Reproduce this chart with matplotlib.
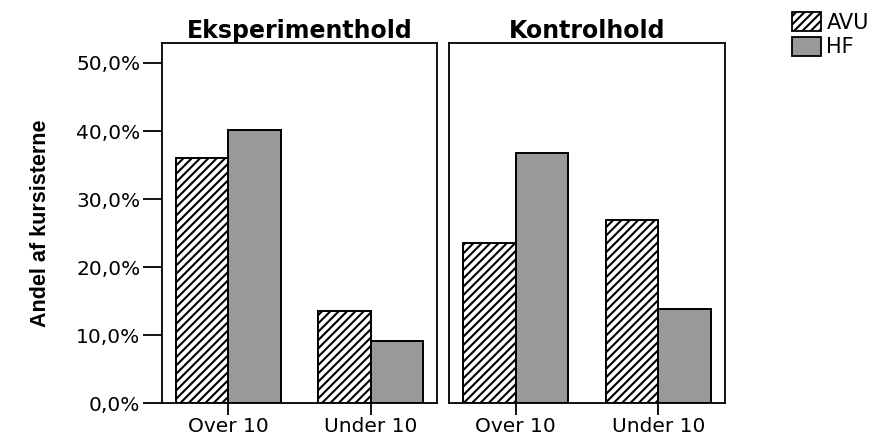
import matplotlib
matplotlib.use("Agg")
import matplotlib.pyplot as plt
import numpy as np
from matplotlib.patches import Patch
from matplotlib.ticker import FuncFormatter

panels = ["Eksperimenthold", "Kontrolhold"]
categories = ["Over 10", "Under 10"]
series = ["AVU", "HF"]
avu_values = [[36.0, 13.5], [23.6, 27.0]]
hf_values = [[40.2, 9.2], [36.8, 13.8]]
yticks = [0, 10, 20, 30, 40, 50]

plt.rcParams['hatch.linewidth'] = 1.5
fig = plt.figure(figsize=(8.89, 4.37), dpi=100)
ax1 = fig.add_axes([0.1822, 0.0771, 0.3093, 0.824])
ax2 = fig.add_axes([0.5054, 0.0771, 0.3101, 0.824])

tickfont = dict(family="DejaVu Sans", size=14.5)
x = np.arange(len(categories))
w = 0.369
for i, ax in enumerate([ax1, ax2]):
    ax.bar(x - w/2, avu_values[i], width=w, color="white", edgecolor="black",
           hatch="////", linewidth=1.4)
    ax.bar(x + w/2, hf_values[i], width=w, color="#999999", edgecolor="black",
           linewidth=1.4)
    ax.set_xlim(-0.466, 1.466)
    ax.set_ylim(0, 52.9)
    ax.set_xticks(x)
    ax.set_xticklabels(categories, **tickfont)
    ax.tick_params(axis='x', length=8.5, width=1.3, pad=1)
    for s in ax.spines.values():
        s.set_linewidth(1.3)
    ax.set_title(panels[i], fontsize=17, fontweight="bold", family="DejaVu Sans", pad=1)
    if i == 0:
        ax.set_yticks(yticks)
        ax.yaxis.set_major_formatter(FuncFormatter(lambda v, p: f"{v:.1f}%".replace(".", ",")))
        for lab in ax.get_yticklabels():
            lab.set_fontfamily("DejaVu Sans")
            lab.set_fontsize(14.5)
        ax.tick_params(axis='y', length=14, width=1.3, pad=1.5)
        ax.set_ylabel("Andel af kursisterne", fontsize=15.5, fontweight="bold",
                      family=["Liberation Sans Narrow", "Liberation Sans", "DejaVu Sans"])
        ax.yaxis.set_label_coords(-0.405, 0.5)
    else:
        ax.set_yticks([])

handles = [Patch(facecolor="white", edgecolor="black", hatch="////", linewidth=1.3),
           Patch(facecolor="#999999", edgecolor="black", linewidth=1.3)]
leg = fig.legend(handles, series, loc="upper left", bbox_to_anchor=(0.891, 0.972),
                 frameon=False, prop=dict(family="DejaVu Sans", size=15),
                 handlelength=1.4, handleheight=1.0, handletextpad=0.25,
                 labelspacing=0.2, borderaxespad=0, borderpad=0)

fig.savefig("out.png", dpi=100)
